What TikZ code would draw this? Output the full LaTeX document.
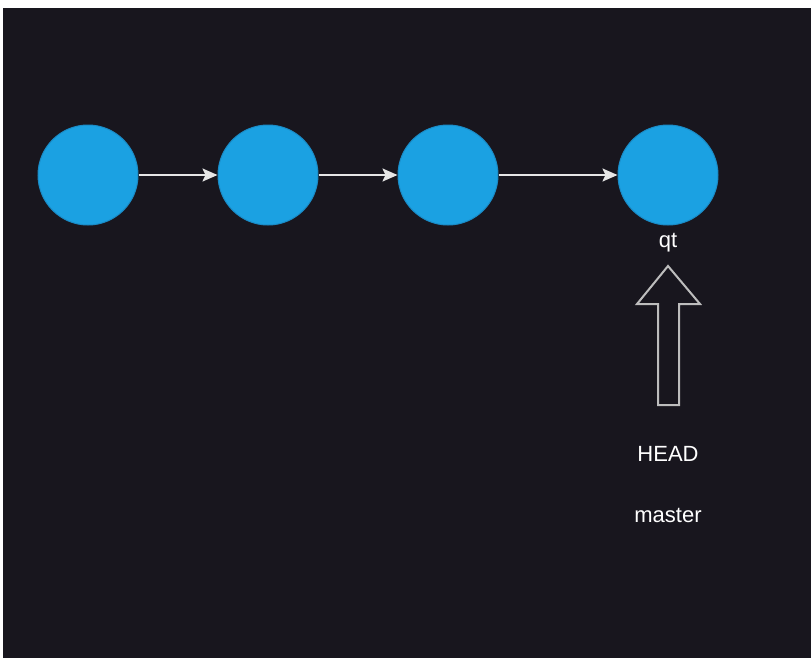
\documentclass[tikz,border=0pt]{standalone}
\usepackage{fontspec}
\setmainfont{Liberation Sans}
\usetikzlibrary{arrows.meta}
\definecolor{bgdark}{HTML}{18161E}
\definecolor{commitfill}{HTML}{1BA1E2}
\definecolor{commitdraw}{HTML}{1A8BC6}
\definecolor{linkcol}{HTML}{E6E6E6}
\definecolor{bigarrow}{HTML}{BDBDBD}
\tikzset{
  commit/.style={circle, fill=commitfill, draw=commitdraw, line width=1pt, minimum size=100pt, inner sep=0pt},
  link/.style={draw=linkcol, line width=2pt, -{Stealth[length=15pt,width=13pt,inset=3pt]}},
  lbl/.style={text=white, font=\fontsize{22}{26}\selectfont, inner sep=0pt},
}
\begin{document}
\begin{tikzpicture}[x=1pt,y=-1pt]
\fill[white] (0,0) rectangle (811,659);
\fill[bgdark] (3,8) rectangle (811,658);
\useasboundingbox (0,0) rectangle (811,659);
\node[commit] (c1) at (88,175) {};
\node[commit] (c2) at (268,175) {};
\node[commit] (c3) at (448,175) {};
\node[commit] (c4) at (668,175) {};
\draw[link] (c1) -- (c2);
\draw[link] (c2) -- (c3);
\draw[link] (c3) -- (c4);
\node[lbl] (qt) at (668,243) {qt};
\coordinate (tip) at (668,266);
\draw[bigarrow, line width=2pt, line join=miter]
  (tip) -- (700,304) -- (679,304) -- (679,405) -- (658,405) -- (658,304) -- (637,304) -- cycle;
\node[lbl] (head) at (668,454) {HEAD};
\node[lbl] (master) at (668,515) {master};
\end{tikzpicture}
\end{document}
